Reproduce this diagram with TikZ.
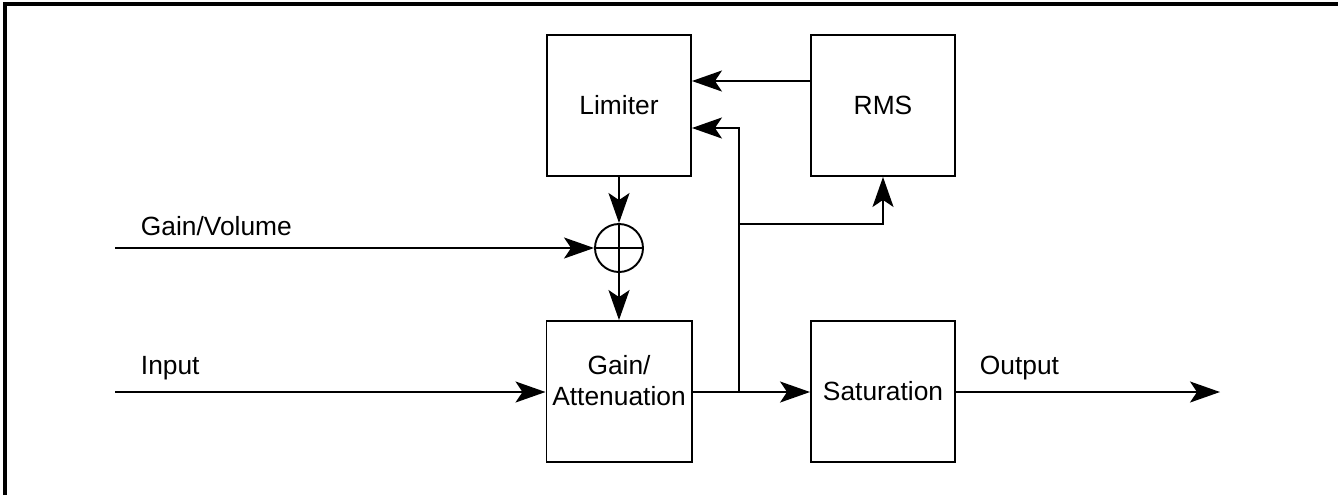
\documentclass[tikz,border=0pt]{standalone}
\usepackage{fontspec}
\setmainfont{Liberation Sans}
\usetikzlibrary{positioning,arrows.meta,shapes}

\begin{document}
\begin{tikzpicture}
        [x=0.02cm, y=-0.02cm,
        font=\fontsize{15}{18}\selectfont, line width=1.1pt,
        block/.style={draw, rectangle, minimum width=2.88cm,
        minimum height=2.82cm, align=center},
        sumnode/.style={draw, circle, minimum size=0.96cm, inner sep=0pt},
        arr/.style={-{Stealth[length=0.6cm,width=0.42cm,inset=0.14cm]}},
        lbl/.style={anchor=south west, inner sep=0pt, yshift=0.22cm, xshift=0.5cm},
        frame/.style={line width=2pt}]
        \useasboundingbox (0,0) rectangle (1338,495);
        \draw[frame] (5,495) -- (5,4) -- (1338,4);
        % blocks
        \node[block] (limiter) at (619,105.5) {Limiter};
        \node[block] (rms) at (883,105.5) {RMS};
        \node[block] (gain) at (619,391.5) {Gain/\\Attenuation\\[-0.19cm]};
        \node[block] (sat) at (883,391.5) {Saturation};
        \node[sumnode] (sum) at (619,248) {};
        \draw (sum.north) -- (sum.south) (sum.west) -- (sum.east);
        % ends and taps
        \coordinate (vol) at (115,248);
        \coordinate (in) at (115,392);
        \coordinate (out) at (1220,392);
        \coordinate (split) at (739,392);
        \coordinate (tap) at (739,224);
        % signal path
        \draw[arr] (vol) -- (sum) node[lbl, at start] {Gain/Volume};
        \draw[arr] (in) -- (gain.west |- in) node[lbl, at start] {Input};
        \draw[arr] (limiter) -- (sum);
        \draw[arr] (sum) -- (gain);
        \draw (gain.east |- split) -- (split);
        \draw[arr] (split) -- (sat.west |- split);
        \draw[arr] (sat.east |- out) -- (out) node[lbl, at start, xshift=-0.04cm] {Output};
        % control path
        \draw[arr] ([yshift=0.49cm]rms.west) -- ([yshift=0.49cm]limiter.east);
        \draw[arr] (split) |- ([yshift=-0.45cm]limiter.east);
        \draw[arr] (tap) -| (rms);
\end{tikzpicture}
\end{document}
